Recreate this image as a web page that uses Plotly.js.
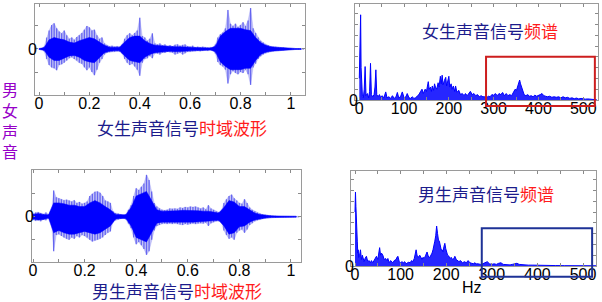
<!DOCTYPE html>
<html><head><meta charset="utf-8">
<script src="https://cdn.plot.ly/plotly-3.0.1.min.js"></script>
<style>html,body{margin:0;padding:0;background:#fff}#c{width:602px;height:302px}</style>
</head><body><div id="c"></div>
<script>
// ---------- DATA ----------
// waveform envelopes (time step 0.01 s for outer, 0.02 s for core)
const femaleOuterUp = [0.01,0.01,0.05,0.25,0.40,0.52,0.56,0.45,0.38,0.34,0.40,0.30,0.22,0.25,0.20,0.26,0.30,0.35,0.42,0.50,0.47,0.40,0.42,0.30,0.22,0.25,0.12,0.08,0.06,0.07,0.05,0.06,0.05,0.10,0.22,0.30,0.34,0.30,0.35,0.40,0.68,0.28,0.25,0.18,0.22,0.34,0.12,0.10,0.12,0.08,0.10,0.06,0.08,0.06,0.09,0.10,0.07,0.09,0.10,0.06,0.05,0.07,0.04,0.05,0.04,0.05,0.04,0.03,0.04,0.03,0.10,0.25,0.32,0.36,0.45,0.85,0.55,0.50,0.55,0.48,0.52,0.58,0.50,0.62,0.89,0.45,0.35,0.25,0.18,0.14,0.10,0.08,0.06,0.05,0.05,0.04,0.03,0.03,0.02,0.02,0.02,0.01,0.01,0.01,0.01,0.01];
const femaleOuterLow = [-0.01,-0.01,-0.05,-0.22,-0.35,-0.40,-0.42,-0.46,-0.35,-0.33,-0.30,-0.25,-0.20,-0.18,-0.22,-0.25,-0.30,-0.32,-0.40,-0.46,-0.40,-0.50,-0.57,-0.45,-0.30,-0.22,-0.12,-0.08,-0.07,-0.06,-0.06,-0.05,-0.06,-0.10,-0.22,-0.30,-0.35,-0.32,-0.38,-0.45,-0.58,-0.30,-0.22,-0.20,-0.15,-0.20,-0.10,-0.10,-0.12,-0.08,-0.08,-0.06,-0.07,-0.08,-0.12,-0.10,-0.08,-0.12,-0.09,-0.06,-0.06,-0.05,-0.05,-0.04,-0.05,-0.04,-0.03,-0.04,-0.03,-0.03,-0.10,-0.28,-0.35,-0.38,-0.45,-0.75,-0.55,-0.48,-0.52,-0.55,-0.50,-0.52,-0.45,-0.55,-0.78,-0.40,-0.32,-0.22,-0.16,-0.12,-0.09,-0.07,-0.06,-0.05,-0.04,-0.04,-0.03,-0.03,-0.02,-0.02,-0.02,-0.01,-0.01,-0.01,-0.01,-0.01];
const femaleCoreUp = [0.01,0.03,0.20,0.25,0.22,0.20,0.15,0.13,0.18,0.22,0.25,0.22,0.15,0.08,0.04,0.04,0.04,0.15,0.25,0.28,0.28,0.18,0.12,0.08,0.07,0.06,0.05,0.05,0.05,0.05,0.04,0.03,0.03,0.03,0.02,0.06,0.28,0.38,0.45,0.45,0.45,0.42,0.40,0.25,0.14,0.08,0.05,0.04,0.03,0.02,0.015,0.01,0.01];
const femaleCoreLow = [-0.01,-0.03,-0.18,-0.25,-0.25,-0.20,-0.15,-0.14,-0.18,-0.25,-0.28,-0.30,-0.18,-0.08,-0.05,-0.04,-0.04,-0.15,-0.25,-0.28,-0.30,-0.18,-0.12,-0.08,-0.07,-0.06,-0.05,-0.06,-0.06,-0.05,-0.04,-0.03,-0.03,-0.03,-0.02,-0.06,-0.28,-0.38,-0.45,-0.45,-0.45,-0.42,-0.42,-0.25,-0.12,-0.07,-0.05,-0.04,-0.03,-0.02,-0.015,-0.01,-0.01];

const maleOuterUp = [0.06,0.09,0.10,0.08,0.06,0.09,0.05,0.02,0.57,0.42,0.40,0.38,0.36,0.37,0.35,0.33,0.36,0.30,0.32,0.28,0.30,0.33,0.45,0.50,0.54,0.55,0.52,0.45,0.35,0.33,0.30,0.12,0.08,0.07,0.05,0.03,0.06,0.15,0.25,0.45,0.62,0.58,0.65,0.72,0.91,0.80,0.55,0.30,0.22,0.18,0.15,0.14,0.15,0.18,0.17,0.18,0.17,0.20,0.19,0.21,0.20,0.22,0.21,0.22,0.20,0.18,0.20,0.16,0.25,0.18,0.15,0.12,0.10,0.12,0.30,0.38,0.45,0.48,0.40,0.35,0.30,0.28,0.38,0.30,0.20,0.15,0.12,0.09,0.07,0.05,0.04,0.03,0.03,0.02,0.02,0.01,0.01,0.01,0.01,0.01,0.01,0.01,0.01,0.01];
const maleOuterLow = [-0.07,-0.09,-0.08,-0.10,-0.06,-0.08,-0.04,-0.02,-0.75,-0.40,-0.38,-0.42,-0.45,-0.48,-0.50,-0.45,-0.48,-0.42,-0.45,-0.40,-0.42,-0.45,-0.50,-0.54,-0.52,-0.50,-0.48,-0.45,-0.40,-0.35,-0.32,-0.12,-0.08,-0.06,-0.05,-0.03,-0.06,-0.15,-0.25,-0.45,-0.60,-0.55,-0.62,-0.70,-0.83,-0.75,-0.50,-0.30,-0.20,-0.18,-0.16,-0.15,-0.16,-0.15,-0.16,-0.15,-0.16,-0.17,-0.18,-0.16,-0.17,-0.16,-0.15,-0.16,-0.15,-0.14,-0.15,-0.13,-0.20,-0.14,-0.12,-0.10,-0.10,-0.12,-0.30,-0.40,-0.48,-0.45,-0.50,-0.35,-0.30,-0.28,-0.35,-0.28,-0.18,-0.14,-0.10,-0.08,-0.06,-0.05,-0.04,-0.03,-0.03,-0.02,-0.02,-0.01,-0.01,-0.01,-0.01,-0.01,-0.01,-0.01,-0.01,-0.01];
const maleCoreUp = [0.05,0.07,0.05,0.04,0.30,0.30,0.28,0.25,0.25,0.22,0.22,0.30,0.35,0.30,0.22,0.15,0.05,0.04,0.04,0.20,0.45,0.50,0.55,0.35,0.15,0.12,0.12,0.13,0.13,0.14,0.14,0.14,0.13,0.12,0.12,0.10,0.08,0.20,0.35,0.32,0.22,0.22,0.14,0.08,0.05,0.03,0.02,0.015,0.01,0.01,0.01,0.01];
const maleCoreLow = [-0.05,-0.07,-0.06,-0.03,-0.35,-0.30,-0.35,-0.38,-0.38,-0.35,-0.32,-0.35,-0.38,-0.35,-0.28,-0.20,-0.05,-0.04,-0.04,-0.20,-0.45,-0.50,-0.55,-0.35,-0.14,-0.12,-0.12,-0.12,-0.12,-0.12,-0.12,-0.12,-0.12,-0.11,-0.10,-0.09,-0.08,-0.20,-0.38,-0.35,-0.22,-0.20,-0.12,-0.07,-0.05,-0.03,-0.02,-0.015,-0.01,-0.01,-0.01,-0.01];

// spectra (Hz, magnitude)
const femaleFreq = [0,1,2,3,4,5,7,9,11,13,15,18,21,23,25,27,30,33,35,37,39,42,45,48,51,55,59,62,66,70,74,78,82,85,88,92,96,100,104,107,111,115,118,122,126,130,133,137,140,143,147,150,152,154,156,159,161,163,166,168,170,173,176,178,181,183,185,187,190,193,195,198,200,202,205,207,210,213,215,218,222,226,230,234,237,241,245,248,252,256,260,264,268,272,276,280,284,288,292,296,300,304,308,312,316,320,324,328,332,336,340,344,348,351,355,358,360,362,365,368,372,376,380,384,388,392,396,400,404,408,412,416,420,425,430,435,440,445,450,455,460,465,470,475,480,485,490,495,500,505,510,515,520,525,530];
const femaleMag = [2.0,5.8,6.2,7.9,3.0,1.0,0.3,0.2,1.0,3.1,0.4,0.6,0.2,0.8,3.4,0.5,0.3,0.5,1.2,2.8,0.5,0.3,0.5,0.2,0.4,0.2,0.75,0.2,0.3,0.15,0.4,0.15,0.3,0.7,0.2,0.3,0.75,0.2,0.3,0.6,0.2,0.15,0.3,0.15,0.2,0.4,0.5,0.8,1.0,0.6,1.0,0.8,1.3,1.7,1.0,1.2,0.8,1.3,0.9,1.5,1.2,1.0,1.6,1.2,2.2,1.5,2.3,1.4,1.8,2.1,1.3,1.7,2.2,1.2,1.5,1.0,1.3,0.8,1.3,0.7,0.9,0.5,0.6,0.4,0.6,0.4,0.6,0.8,0.5,0.6,0.4,0.5,0.3,0.4,0.3,0.3,0.2,0.35,0.3,0.5,0.45,0.6,0.4,0.6,0.5,0.7,0.4,0.6,0.4,0.5,0.4,0.7,1.0,0.9,1.4,1.85,1.5,1.2,0.7,0.5,0.4,0.5,0.35,0.4,0.3,0.45,0.35,0.4,0.5,0.6,0.4,0.35,0.3,0.35,0.25,0.3,0.25,0.3,0.2,0.3,0.2,0.25,0.15,0.2,0.12,0.18,0.1,0.15,0.1,0.08,0.1,0.06,0.05,0.04,0.03];
const maleFreq = [0,1,2,3,4,5,6,7,8,10,12,14,16,18,20,22,25,28,31,34,36,39,42,45,47,50,52,54,56,58,61,64,67,70,72,75,78,80,83,86,90,92,94,97,100,103,106,109,112,115,118,121,124,127,130,132,134,136,139,142,145,147,149,152,155,158,160,162,164,167,169,171,173,175,177,179,181,183,185,187,189,191,193,195,197,199,201,203,206,209,211,214,217,219,222,225,228,231,233,236,240,244,248,252,256,260,262,266,270,275,280,285,290,295,300,305,310,315,320,325,330,335,340,345,350,355,360,365,370,380,390,400,410,420,440,460,480,500,520,530];
const maleMag = [5.0,6.85,5.5,4.75,2.9,2.3,1.2,1.5,0.8,1.0,1.5,0.6,1.0,0.6,0.4,0.7,0.9,0.4,0.5,0.3,0.5,0.3,0.5,0.7,0.9,0.6,1.2,1.7,1.0,1.2,1.0,0.6,0.7,0.5,0.7,0.3,0.5,0.4,0.3,0.5,0.6,0.8,0.9,0.4,0.3,0.4,0.3,0.4,0.2,0.3,0.35,0.3,0.5,0.4,0.7,1.1,1.5,1.0,0.8,1.0,0.7,0.6,0.8,0.7,1.0,1.3,1.0,0.8,0.8,1.0,1.2,1.5,1.8,2.3,2.8,3.7,3.0,2.4,2.3,1.8,1.5,1.5,1.3,1.8,2.1,1.6,1.2,1.0,0.9,0.7,0.8,0.6,0.7,0.9,0.6,0.5,0.4,0.5,0.4,0.3,0.4,0.3,0.5,0.3,0.25,0.2,0.3,0.2,0.2,0.15,0.2,0.3,0.4,0.2,0.15,0.2,0.15,0.25,0.3,0.15,0.12,0.15,0.1,0.15,0.2,0.25,0.15,0.12,0.1,0.08,0.08,0.06,0.05,0.05,0.04,0.03,0.03,0.02,0.02,0.02];

// highlight boxes [f0, f1, y0, y1] in data units
const femaleBox = [283, 526, -0.55, 4.0];
const maleBox = [278, 520, -1.0, 3.5];

// tick labels
const timeTicks = [0, 0.2, 0.4, 0.6, 0.8, 1];
const timeTickText = ['0', '0.2', '0.4', '0.6', '0.8', '1'];
const freqTicks = [0, 100, 200, 300, 400, 500];
const freqTickText = ['0', '100', '200', '300', '400', '500'];

// texts
const sideLabel = ['男', '女', '声', '音'];
const femaleWaveTitle = ['女生声音信号', '时域波形'];
const maleWaveTitle = ['男生声音信号', '时域波形'];
const femaleSpecTitle = ['女生声音信号', '频谱'];
const maleSpecTitle = ['男生声音信号', '频谱'];
const freqAxisTitle = 'Hz';

// ---------- LAYOUT HELPERS ----------
const W = 602, H = 302;
const xd = (l, r) => [l / W, r / W];
const yd = (t, b) => [1 - b / H, 1 - t / H];
const grid = (n, step) => Array.from({length: n}, (_, i) => +(i * step).toFixed(3));

const NAVY = 'rgb(28,28,140)', RED = 'rgb(255,28,28)';
const CJK = '"Noto Sans CJK SC", sans-serif';
const NUM = '"Liberation Sans", Arial, sans-serif';

function band(t, up, low, xa, ya, color) {
  const x = t.concat(t.slice().reverse());
  const y = up.concat(low.slice().reverse());
  return {x, y, xaxis: xa, yaxis: ya, type: 'scatter', mode: 'lines', fill: 'toself',
    fillcolor: color, line: {color: color, width: 0.5}, hoverinfo: 'skip'};
}
function sticks(t, up, low, xa, ya, color, w) {
  const x = [], y = [];
  t.forEach((v, i) => { x.push(v, v, null); y.push(low[i], up[i], null); });
  return {x, y, xaxis: xa, yaxis: ya, type: 'scatter', mode: 'lines',
    line: {color, width: w}, hoverinfo: 'skip', connectgaps: false};
}
function spec(f, m, xa, ya) {
  return {x: f, y: m, xaxis: xa, yaxis: ya, type: 'scatter', mode: 'lines', fill: 'tozeroy',
    fillcolor: 'rgba(0,0,255,0.85)', line: {color: '#0000ff', width: 1}, hoverinfo: 'skip'};
}

const fT = grid(femaleOuterUp.length, 0.01), fTc = grid(femaleCoreUp.length, 0.02);
const mT = grid(maleOuterUp.length, 0.01), mTc = grid(maleCoreUp.length, 0.02);
const PALE = 'rgba(90,90,235,0.35)', LIGHT = 'rgba(40,40,235,0.6)', CORE = 'rgb(0,0,255)';

const data = [
  band(fT, femaleOuterUp, femaleOuterLow, 'x', 'y', PALE),
  sticks(fT, femaleOuterUp, femaleOuterLow, 'x', 'y', LIGHT, 1.3),
  band(fTc, femaleCoreUp, femaleCoreLow, 'x', 'y', CORE),
  spec(femaleFreq, femaleMag, 'x2', 'y2'),
  band(mT, maleOuterUp, maleOuterLow, 'x3', 'y3', PALE),
  sticks(mT, maleOuterUp, maleOuterLow, 'x3', 'y3', LIGHT, 1.3),
  band(mTc, maleCoreUp, maleCoreLow, 'x3', 'y3', CORE),
  spec(maleFreq, maleMag, 'x4', 'y4'),
];

const axBase = {showline: true, mirror: 'ticks', linecolor: '#9a9a9a', linewidth: 1,
  ticks: 'inside', ticklen: 3, tickcolor: '#8a8a8a', showgrid: false, zeroline: false,
  tickfont: {family: NUM, size: 16, color: '#000'}, fixedrange: true};

function xAxis(dom, range, tv, tt, minor, anchor) {
  return Object.assign({}, axBase, {domain: dom, range, tickvals: tv, ticktext: tt, anchor,
    ticklabelstandoff: -6,
    minor: {ticks: 'inside', ticklen: 3, dtick: minor, tickcolor: '#8a8a8a'}});
}
function yAxis(dom, range, tv, anchor, shift) {
  return Object.assign({}, axBase, {domain: dom, range, tickvals: tv,
    ticktext: tv.map(v => v === 0 ? '0' : ''), anchor, ticklabelstandoff: shift});
}

const rngF = [-0.016, 1.056], rngM = [-0.004, 1.039];
const rngFS = [-9.6, 533], rngMS = [-8.8, 528.5];

const layout = {
  width: W, height: H, margin: {l: 0, r: 0, t: 0, b: 0},
  paper_bgcolor: '#fff', plot_bgcolor: '#fff', showlegend: false,
  xaxis: xAxis(xd(35, 305), rngF, timeTicks, timeTickText, 0.1, 'y'),
  yaxis: yAxis(yd(4, 95), [-1.0, 0.978], [-0.5, 0, 0.5], 'x', -6),
  xaxis2: xAxis(xd(355, 598), rngFS, freqTicks, freqTickText, 50, 'y2'),
  yaxis2: yAxis(yd(4, 100), [0, 8.9], [0,1,2,3,4,5,6,7,8], 'x2', -7),
  xaxis3: xAxis(xd(32, 301), rngM, timeTicks, timeTickText, 0.1, 'y3'),
  yaxis3: yAxis(yd(170, 262), [-0.985, 1.015], [-0.5, 0, 0.5], 'x3', -6),
  xaxis4: xAxis(xd(351, 596), rngMS, freqTicks, freqTickText, 50, 'y4'),
  yaxis4: yAxis(yd(171, 266), [0, 8.8], [0,1,2,3,4,5,6,7,8], 'x4', -7),
  annotations: [],
  shapes: [],
};

// box shapes, converted to axis-domain fractions so they may extend below the frame
function boxShape(b, xr, yr, xa, ya, color) {
  const fx = v => (v - xr[0]) / (xr[1] - xr[0]);
  const fy = v => (v - yr[0]) / (yr[1] - yr[0]);
  return {type: 'rect', xref: xa + ' domain', yref: ya + ' domain',
    x0: fx(b[0]), x1: fx(b[1]), y0: fy(b[2]), y1: fy(b[3]),
    line: {color, width: 2}, fillcolor: 'rgba(0,0,0,0)'};
}
layout.shapes.push(boxShape(femaleBox, rngFS, [0, 8.9], 'x2', 'y2', 'rgb(205,30,30)'));
layout.shapes.push(boxShape(maleBox, rngMS, [0, 8.8], 'x4', 'y4', 'rgb(30,50,150)'));

function title(parts, cx, cy) {
  return {xref: 'paper', yref: 'paper', x: cx / W, y: 1 - cy / H, xanchor: 'center', yanchor: 'middle',
    showarrow: false, font: {family: CJK, size: 17, color: NAVY},
    text: parts[0] + '<span style="color:' + RED + '">' + parts[1] + '</span>'};
}
layout.annotations.push(title(femaleWaveTitle, 182, 127));
layout.annotations.push(title(maleWaveTitle, 177, 290));
layout.annotations.push(title(femaleSpecTitle, 490, 31));
layout.annotations.push(title(maleSpecTitle, 486, 193));
layout.annotations.push({xref: 'paper', yref: 'paper', x: 10 / W, y: 1 - 120 / H,
  xanchor: 'center', yanchor: 'middle', showarrow: false, text: sideLabel.join('<br>'),
  font: {family: CJK, size: 16, color: 'rgb(150,0,200)'}});
layout.annotations.push({xref: 'paper', yref: 'paper', x: 472 / W, y: 1 - 287 / H,
  xanchor: 'center', yanchor: 'middle', showarrow: false, text: freqAxisTitle,
  font: {family: NUM, size: 16, color: '#000'}});

Plotly.newPlot('c', data, layout, {staticPlot: true});
</script></body></html>
